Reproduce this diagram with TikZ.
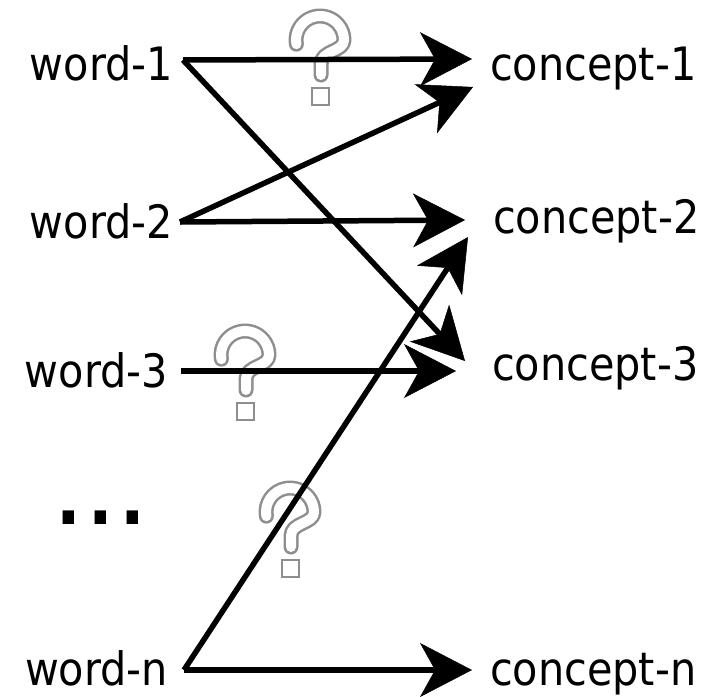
\documentclass[tikz,border=0pt]{standalone}
\usepackage{fontspec}
\setmainfont{DejaVu Sans}[FakeStretch=0.9]
\usetikzlibrary{arrows.meta}
\definecolor{qgray}{HTML}{8E8E8E}
\tikzset{
  lbl/.style={inner sep=0pt, outer sep=0pt, font=\fontsize{46}{55}\selectfont},
  arr/.style={line width=5.5pt, -{Stealth[length=52pt, width=54pt, inset=15pt, line width=0.5pt]}},
  qmark/.pic={
    \draw[line width=15pt, draw=qgray, line cap=round, line join=round]
      (170:24) arc[start angle=170, end angle=360, radius=24]
      .. controls (24,12) and (1,10) .. (1,24) -- (1,35);
    \draw[line width=10pt, draw=white, line cap=round, line join=round]
      (170:24) arc[start angle=170, end angle=360, radius=24]
      .. controls (24,12) and (1,10) .. (1,24) -- (1,35);
    \draw[line width=2.5pt, draw=qgray, fill=white] (-8,48) rectangle (9,65);
  }
}
\begin{document}
\begin{tikzpicture}[x=1pt, y=-1pt]
\useasboundingbox (0,0) rectangle (703,696);
% words
\node[lbl, anchor=base east] (w1) at (173,80) {word-1};
\node[lbl, anchor=base east] (w2) at (173,238) {word-2};
\node[lbl, anchor=base east] (w3) at (168,387) {word-3};
\node[lbl, anchor=base east] (wn) at (168,685) {word-n};
\node[inner sep=0pt, anchor=base, font=\fontsize{72}{80}\selectfont\bfseries] (dots) at (101,524) {.\hspace{7.5pt}.\hspace{7.5pt}.};
% concepts
\node[lbl, anchor=base west] (c1) at (490,80) {concept-1};
\node[lbl, anchor=base west] (c2) at (493,233) {concept-2};
\node[lbl, anchor=base west] (c3) at (492,380) {concept-3};
\node[lbl, anchor=base west] (cn) at (490,685) {concept-n};
% ports
\coordinate (w1o) at (183,60);
\coordinate (w2o) at (180,222);
\coordinate (w3o) at (181,371);
\coordinate (wno) at (184,670);
\coordinate (c1a) at (472,59);
\coordinate (c1b) at (473,87);
\coordinate (c2a) at (465,220);
\coordinate (c2b) at (468,237);
\coordinate (c3a) at (465,361);
\coordinate (c3b) at (456,371);
\coordinate (cna) at (472,670);
% question marks
\pic at (320,40) {qmark};
\pic at (245,355) {qmark};
\pic at (290,512) {qmark};
% arrows
\draw[arr] (w1o) -- (c1a);
\draw[arr] (w1o) -- (c3a);
\draw[arr] (w2o) -- (c1b);
\draw[arr] (w2o) -- (c2a);
\draw[arr] (w3o) -- (c3b);
\draw[arr] (wno) -- (c2b);
\draw[arr] (wno) -- (cna);
\end{tikzpicture}
\end{document}
